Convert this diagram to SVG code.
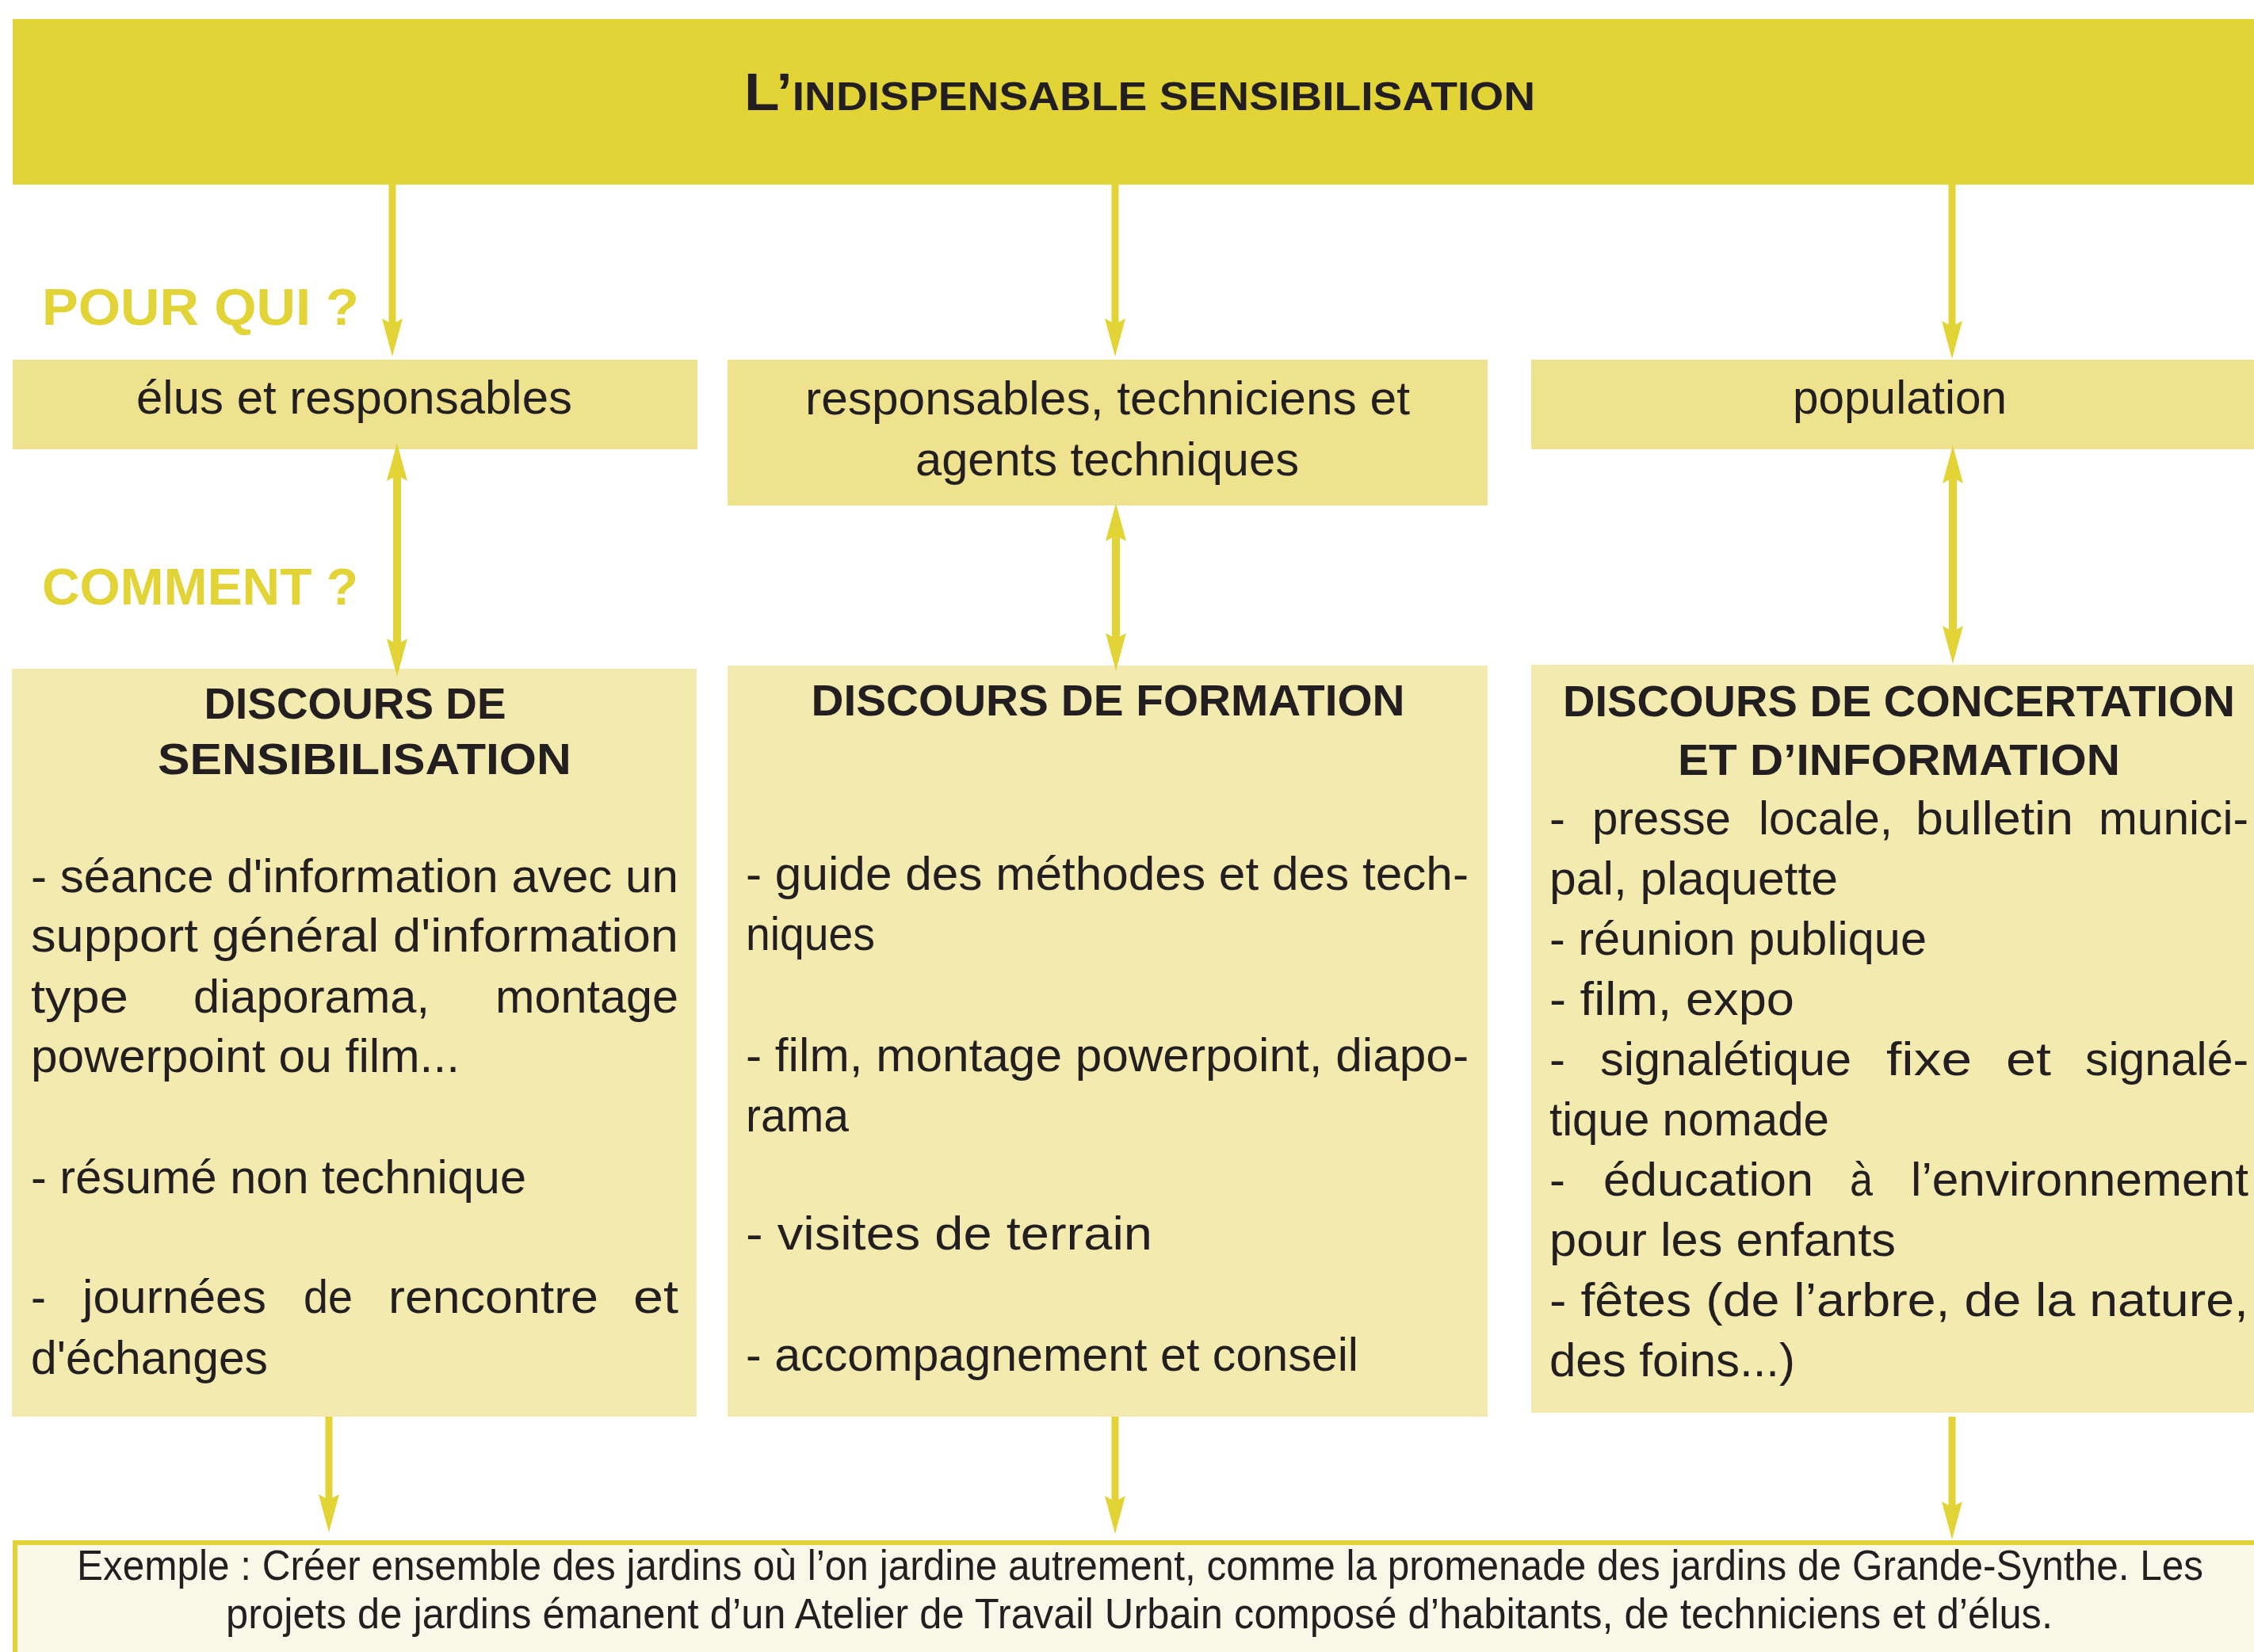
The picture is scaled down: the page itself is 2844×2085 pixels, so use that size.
<svg xmlns="http://www.w3.org/2000/svg" width="2844" height="2085" viewBox="0 0 2844 2085">
<style>
  text { font-family: "Liberation Sans", Arial, sans-serif; fill: #231F20; }
  .title { font-weight: bold; }
  .lbl { font-weight: bold; font-size: 65px; fill: #E2D337; }
  .who { font-size: 60px; }
  .head { font-weight: bold; font-size: 55px; }
  .body { font-size: 60px; }
  .ex { font-size: 54px; }
  .banner { fill: #E2D337; }
  .who-box { fill: #EEE28E; }
  .how-box { fill: #F3EAB0; }
  .ex-box { fill: #F9F7E8; stroke: #E2D337; stroke-width: 6; }
  .arrow { stroke: #E2D337; stroke-width: 9; fill: none; marker-end: url(#ah); }
  .arrow2 { stroke: #E2D337; stroke-width: 10; fill: none; marker-start: url(#ah); marker-end: url(#ah); }
</style>
<defs>
  <marker id="ah" viewBox="0 0 48 26" refX="7" refY="13" markerWidth="48" markerHeight="26" markerUnits="userSpaceOnUse" orient="auto-start-reverse">
    <path d="M0,0 L48,13 L0,26 L7,13 Z" fill="#E2D337"/>
  </marker>
</defs>
<rect width="2844" height="2085" fill="#FFFFFF"/>

<g id="title">
  <rect class="banner" x="16" y="24" width="2840" height="209"/>
  <text class="title" x="1438" y="139" text-anchor="middle" textLength="998" lengthAdjust="spacingAndGlyphs"><tspan font-size="66">L’</tspan><tspan font-size="50">INDISPENSABLE SENSIBILISATION</tspan></text>
</g>

<g id="label-pourqui"><text class="lbl" x="53" y="410" textLength="400" lengthAdjust="spacingAndGlyphs">POUR QUI ?</text></g>
<g id="label-comment"><text class="lbl" x="53" y="763" textLength="399" lengthAdjust="spacingAndGlyphs">COMMENT ?</text></g>

<g id="who-elus">
  <rect class="who-box" x="16" y="454" width="864" height="113"/>
  <text class="who" x="172" y="522" textLength="550" lengthAdjust="spacingAndGlyphs">élus et responsables</text>
</g>
<g id="who-techniciens">
  <rect class="who-box" x="918" y="454" width="959" height="184"/>
  <text class="who" x="1016" y="523" textLength="763" lengthAdjust="spacingAndGlyphs">responsables, techniciens et</text>
  <text class="who" x="1155" y="600" textLength="484" lengthAdjust="spacingAndGlyphs">agents techniques</text>
</g>
<g id="who-population">
  <rect class="who-box" x="1932" y="454" width="930" height="113"/>
  <text class="who" x="2262" y="522" textLength="270" lengthAdjust="spacingAndGlyphs">population</text>
</g>

<g id="how-sensibilisation">
  <rect class="how-box" x="15" y="844" width="864" height="944"/>
  <text class="head" x="448" y="907" text-anchor="middle" textLength="381" lengthAdjust="spacingAndGlyphs">DISCOURS DE</text>
  <text class="head" x="460" y="977" text-anchor="middle" textLength="522" lengthAdjust="spacingAndGlyphs">SENSIBILISATION</text>
  <text class="body" x="39" y="1126" textLength="817" lengthAdjust="spacingAndGlyphs">- séance d'information avec un</text>
  <text class="body" x="39" y="1201" textLength="817" lengthAdjust="spacingAndGlyphs">support général d'information</text>
  <text class="body" y="1278"><tspan x="39" textLength="123" lengthAdjust="spacingAndGlyphs">type</tspan><tspan x="244" textLength="298" lengthAdjust="spacingAndGlyphs">diaporama,</tspan><tspan x="625" textLength="231" lengthAdjust="spacingAndGlyphs">montage</tspan></text>
  <text class="body" x="39" y="1353" textLength="541" lengthAdjust="spacingAndGlyphs">powerpoint ou film...</text>
  <text class="body" x="39" y="1506" textLength="625" lengthAdjust="spacingAndGlyphs">- résumé non technique</text>
  <text class="body" y="1657"><tspan x="39" textLength="19" lengthAdjust="spacingAndGlyphs">-</tspan><tspan x="104" textLength="232" lengthAdjust="spacingAndGlyphs">journées</tspan><tspan x="383" textLength="62" lengthAdjust="spacingAndGlyphs">de</tspan><tspan x="490" textLength="265" lengthAdjust="spacingAndGlyphs">rencontre</tspan><tspan x="799" textLength="57" lengthAdjust="spacingAndGlyphs">et</tspan></text>
  <text class="body" x="39" y="1734" textLength="299" lengthAdjust="spacingAndGlyphs">d'échanges</text>
</g>

<g id="how-formation">
  <rect class="how-box" x="918" y="840" width="959" height="948"/>
  <text class="head" x="1398" y="903" text-anchor="middle" textLength="749" lengthAdjust="spacingAndGlyphs">DISCOURS DE FORMATION</text>
  <text class="body" x="941" y="1123" textLength="912" lengthAdjust="spacingAndGlyphs">- guide des méthodes et des tech-</text>
  <text class="body" x="941" y="1199" textLength="163" lengthAdjust="spacingAndGlyphs">niques</text>
  <text class="body" x="941" y="1352" textLength="912" lengthAdjust="spacingAndGlyphs">- film, montage powerpoint, diapo-</text>
  <text class="body" x="941" y="1428" textLength="130" lengthAdjust="spacingAndGlyphs">rama</text>
  <text class="body" x="941" y="1577" textLength="513" lengthAdjust="spacingAndGlyphs">- visites de terrain</text>
  <text class="body" x="941" y="1730" textLength="773" lengthAdjust="spacingAndGlyphs">- accompagnement et conseil</text>
</g>

<g id="how-concertation">
  <rect class="how-box" x="1932" y="839" width="930" height="944"/>
  <text class="head" x="2396" y="904" text-anchor="middle" textLength="848" lengthAdjust="spacingAndGlyphs">DISCOURS DE CONCERTATION</text>
  <text class="head" x="2396" y="978" text-anchor="middle" textLength="558" lengthAdjust="spacingAndGlyphs">ET D’INFORMATION</text>
  <text class="body" y="1053"><tspan x="1955" textLength="20" lengthAdjust="spacingAndGlyphs">-</tspan><tspan x="2009" textLength="175" lengthAdjust="spacingAndGlyphs">presse</tspan><tspan x="2219" textLength="169" lengthAdjust="spacingAndGlyphs">locale,</tspan><tspan x="2417" textLength="199" lengthAdjust="spacingAndGlyphs">bulletin</tspan><tspan x="2648" textLength="189" lengthAdjust="spacingAndGlyphs">munici-</tspan></text>
  <text class="body" x="1955" y="1129" textLength="364" lengthAdjust="spacingAndGlyphs">pal, plaquette</text>
  <text class="body" x="1955" y="1205" textLength="476" lengthAdjust="spacingAndGlyphs">- réunion publique</text>
  <text class="body" x="1955" y="1281" textLength="309" lengthAdjust="spacingAndGlyphs">- film, expo</text>
  <text class="body" y="1357"><tspan x="1955" textLength="20" lengthAdjust="spacingAndGlyphs">-</tspan><tspan x="2019" textLength="317" lengthAdjust="spacingAndGlyphs">signalétique</tspan><tspan x="2380" textLength="108" lengthAdjust="spacingAndGlyphs">fixe</tspan><tspan x="2531" textLength="57" lengthAdjust="spacingAndGlyphs">et</tspan><tspan x="2631" textLength="206" lengthAdjust="spacingAndGlyphs">signalé-</tspan></text>
  <text class="body" x="1955" y="1433" textLength="353" lengthAdjust="spacingAndGlyphs">tique nomade</text>
  <text class="body" y="1509"><tspan x="1955" textLength="20" lengthAdjust="spacingAndGlyphs">-</tspan><tspan x="2023" textLength="265" lengthAdjust="spacingAndGlyphs">éducation</tspan><tspan x="2334" textLength="29" lengthAdjust="spacingAndGlyphs">à</tspan><tspan x="2411" textLength="426" lengthAdjust="spacingAndGlyphs">l’environnement</tspan></text>
  <text class="body" x="1955" y="1585" textLength="437" lengthAdjust="spacingAndGlyphs">pour les enfants</text>
  <text class="body" x="1955" y="1661" textLength="882" lengthAdjust="spacingAndGlyphs">- fêtes (de l’arbre, de la nature,</text>
  <text class="body" x="1955" y="1737" textLength="310" lengthAdjust="spacingAndGlyphs">des foins...)</text>
</g>

<g id="example">
  <rect class="ex-box" x="19" y="1947" width="2840" height="200"/>
  <text class="ex" x="97" y="1994" textLength="2683" lengthAdjust="spacingAndGlyphs">Exemple : Créer ensemble des jardins où l’on jardine autrement, comme la promenade des jardins de Grande-Synthe. Les</text>
  <text class="ex" x="285" y="2055" textLength="2305" lengthAdjust="spacingAndGlyphs">projets de jardins émanent d’un Atelier de Travail Urbain composé d’habitants, de techniciens et d’élus.</text>
</g>

<g id="connectors">
  <line class="arrow" x1="495" y1="233" x2="495" y2="409"/>
  <line class="arrow" x1="1407" y1="233" x2="1407" y2="409"/>
  <line class="arrow" x1="2463" y1="233" x2="2463" y2="412"/>
  <line class="arrow2" x1="501" y1="600" x2="501" y2="813"/>
  <line class="arrow2" x1="1408" y1="676" x2="1408" y2="806"/>
  <line class="arrow2" x1="2464" y1="603" x2="2464" y2="797"/>
  <line class="arrow" x1="415" y1="1788" x2="415" y2="1893"/>
  <line class="arrow" x1="1407" y1="1788" x2="1407" y2="1895"/>
  <line class="arrow" x1="2463" y1="1788" x2="2463" y2="1902"/>
</g>
</svg>
